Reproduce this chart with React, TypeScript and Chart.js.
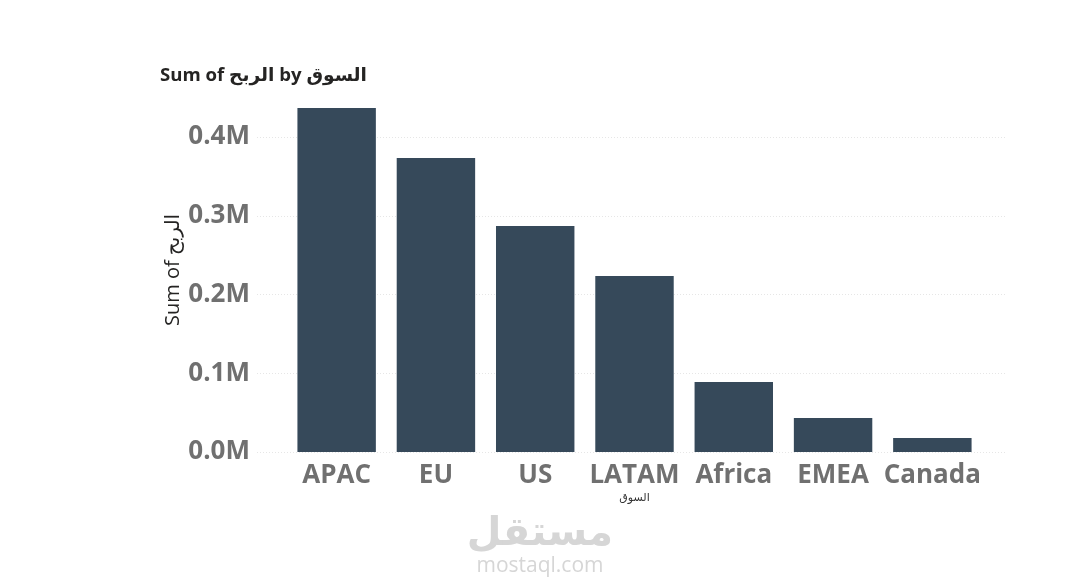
import { useEffect, useRef } from "react";
import Chart from "chart.js/auto";

const markets = ["APAC", "EU", "US", "LATAM", "Africa", "EMEA", "Canada"];
const profit = [436500, 373300, 287000, 223500, 88900, 43200, 17800];
const yTicks = [0, 100000, 200000, 300000, 400000];

const chartTitle = "Sum of الربح by السوق";
const yTitle = "Sum of الربح";
const xTitle = "السوق";

const FONT = "'Open Sans', 'DejaVu Sans', sans-serif";

// dotted horizontal gridlines that run a bit past the bars on both sides
const dottedGrid = {
  id: "dottedGrid",
  beforeDatasetsDraw(chart: any) {
    const { ctx, chartArea, scales } = chart;
    ctx.save();
    ctx.strokeStyle = "#e6e6e6";
    ctx.lineWidth = 1;
    ctx.setLineDash([1, 2]);
    yTicks.forEach((v) => {
      const y = Math.round(scales.y.getPixelForValue(v)) + 0.5;
      ctx.beginPath();
      ctx.moveTo(chartArea.left - 30, y);
      ctx.lineTo(chartArea.right + 24, y);
      ctx.stroke();
    });
    ctx.restore();
  },
};

const App = () => {
  const canvasRef = useRef<HTMLCanvasElement>(null);
  const chartRef = useRef<Chart | null>(null);

  useEffect(() => {
    if (!canvasRef.current) return;
    if (chartRef.current) chartRef.current.destroy();

    chartRef.current = new Chart(canvasRef.current, {
      type: "bar",
      data: {
        labels: markets,
        datasets: [
          {
            data: profit,
            backgroundColor: "#36495a",
            categoryPercentage: 0.79,
            barPercentage: 1,
          },
        ],
      },
      options: {
        animation: false,
        responsive: true,
        maintainAspectRatio: false,
        layout: { padding: { left: 160, right: 98, top: 88, bottom: 84 } },
        plugins: {
          legend: { display: false },
          title: { display: false },
          tooltip: { enabled: false },
        },
        scales: {
          x: {
            grid: { display: false, drawTicks: false },
            border: { display: false },
            ticks: {
              color: "#707070",
              padding: 8,
              maxRotation: 0,
              minRotation: 0,
              autoSkip: false,
              font: { family: FONT, size: 26, weight: "bold" },
            },
            title: {
              display: true,
              text: xTitle,
              color: "#333",
              padding: 0,
              font: { family: FONT, size: 11 },
            },
            afterFit: (s: any) => {
              s.height = 52;
            },
          },
          y: {
            min: 0,
            max: 462000,
            grid: { display: false, drawTicks: false },
            border: { display: false },
            afterBuildTicks: (s: any) => {
              s.ticks = yTicks.map((v) => ({ value: v }));
            },
            ticks: {
              color: "#707070",
              padding: 37,
              font: { family: FONT, size: 26, weight: "bold" },
              callback: (v: any) => (Number(v) / 1000000).toFixed(1) + "M",
            },
            title: {
              display: true,
              text: yTitle,
              color: "#252423",
              padding: { top: 1, bottom: 0 },
              font: { family: FONT, size: 20 },
            },
            afterFit: (s: any) => {
              s.width = 127;
            },
          },
        },
      },
      plugins: [dottedGrid],
    });

    return () => {
      if (chartRef.current) {
        chartRef.current.destroy();
        chartRef.current = null;
      }
    };
  }, []);

  return (
    <div
      style={{
        position: "fixed",
        left: 0,
        top: 0,
        width: 1080,
        height: 588,
        background: "#fff",
        fontFamily: FONT,
      }}
    >
      <canvas ref={canvasRef} />
      <div
        dir="ltr"
        style={{
          position: "absolute",
          left: 160,
          top: 61,
          fontSize: 18.6,
          fontWeight: 700,
          color: "#252423",
          whiteSpace: "nowrap",
        }}
      >
        {chartTitle}
      </div>
      <div
        style={{
          position: "absolute",
          left: 440,
          top: 510,
          width: 200,
          textAlign: "center",
          color: "#d6d6d6",
          lineHeight: 1,
        }}
      >
        <div style={{ fontSize: 40, fontWeight: 700 }}>مستقل</div>
        <div style={{ fontSize: 21, marginTop: 4 }}>mostaql.com</div>
      </div>
    </div>
  );
};

export default App;
